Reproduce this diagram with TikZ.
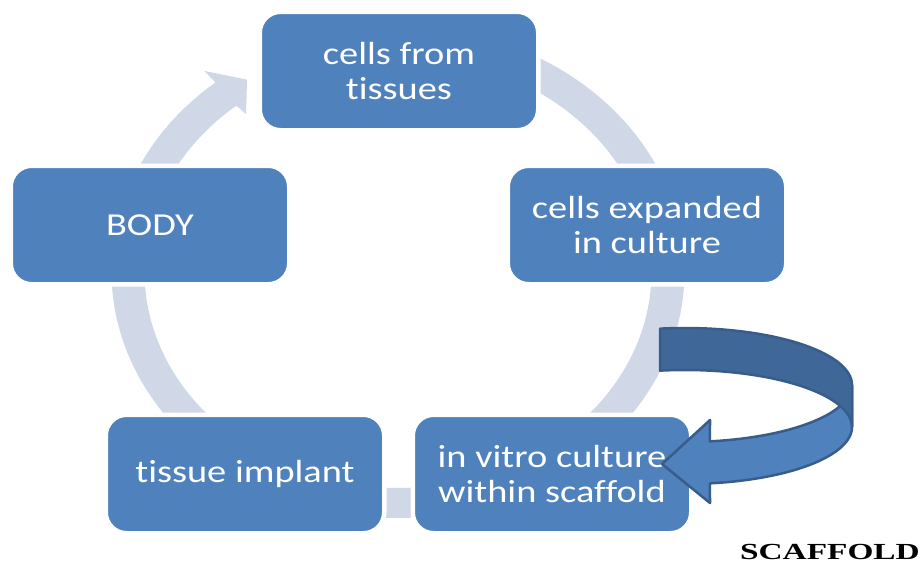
\documentclass[tikz,border=0pt]{standalone}
\usepackage{fontspec}
\newfontfamily\boxfont[FakeStretch=1.2,Ligatures={NoCommon}]{Carlito}
\newfontfamily\scafont[FakeStretch=1.45]{Liberation Serif}
\definecolor{boxblue}{HTML}{4F81BD}
\definecolor{bandc}{HTML}{D0D8E8}
\definecolor{darkface}{HTML}{3F6797}
\definecolor{edgec}{HTML}{385D8A}
\tikzset{
  stepbox/.style={fill=boxblue, draw=white, line width=4.5pt, rounded corners=21pt,
    minimum width=278.5pt, minimum height=118.5pt, inner sep=0pt, text=white,
    align=center, font={\boxfont\fontsize{32}{35}\selectfont}},
  arrowface/.style={draw=edgec, line width=2.5pt, line join=round},
}
\begin{document}
\begin{tikzpicture}[x=1pt,y=-1pt]
\useasboundingbox (0,0) rectangle (924,568);
% cycle band with arrowhead
\fill[bandc]
  plot[domain=-230.4:117, samples=160, variable=\t] ({398+286.5*cos(\t)},{272-246*sin(\t)})
  -- ({398+253.5*cos(117)},{272-216*sin(117)})
  -- plot[domain=0:347.4, samples=160, variable=\s] ({398+253.5*cos(117-\s)},{272-216*sin(117-\s)})
  -- ({398+0.883*270*cos(129.6)},{272-0.883*232*sin(129.6)})
  -- ({398+270*cos(124)},{272-232*sin(124)})
  -- ({398+1.125*270*cos(129.6)},{272-1.125*232*sin(129.6)})
  -- cycle;
% boxes
\node[stepbox] (top) at (399,71) {cells from\\tissues};
\node[stepbox] (right) at (647,225) {cells expanded\\in culture};
\node[stepbox] (bright) at (552,474) {in vitro culture\\within scaffold};
\node[stepbox] (bleft) at (245,474) {tissue implant};
\node[stepbox] (left) at (150,225) {BODY};
% curved arrow: front face
\filldraw[arrowface, fill=boxblue]
  plot[domain=0:81.4, samples=50, variable=\t] ({685+167*cos(\t)},{385+57*sin(\t)})
  -- (710,420) -- (662,464) -- (710,503)
  -- plot[domain=0:81.4, samples=50, variable=\s] ({685+167*cos(81.4-\s)},{427+57*sin(81.4-\s)})
  -- cycle;
% curved arrow: back face
\filldraw[arrowface, fill=darkface]
  plot[domain=-98.6:0, samples=60, variable=\t] ({685+167*cos(\t)},{385+57*sin(\t)})
  -- plot[domain=0:98.6, samples=60, variable=\s] ({685+167*cos(-\s)},{427+57*sin(-\s)})
  -- cycle;
\node[anchor=base east, inner sep=0pt, font={\scafont\bfseries\fontsize{23}{23}\selectfont}] (scaf) at (920,559) {SCAFFOLD};
\end{tikzpicture}
\end{document}
